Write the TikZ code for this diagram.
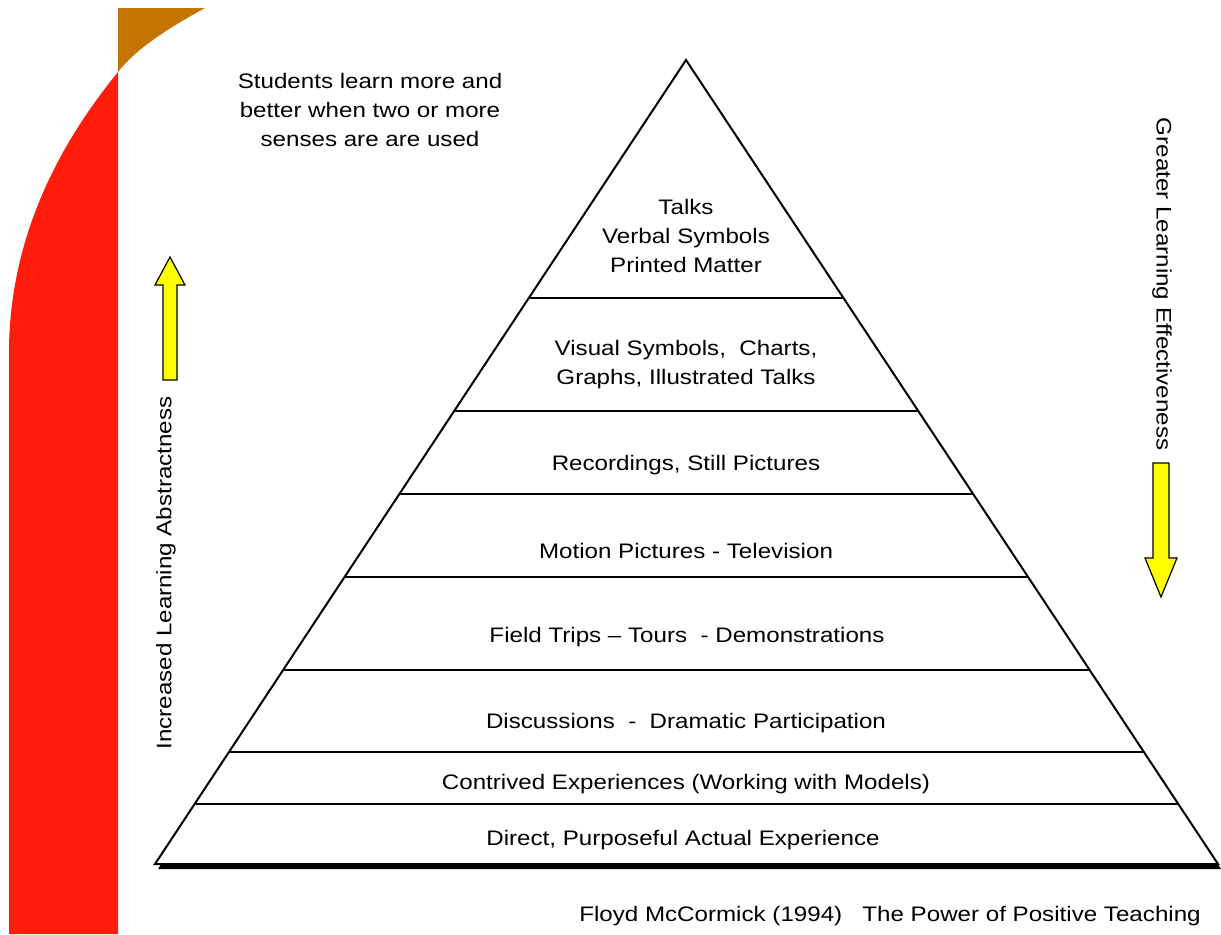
\documentclass[tikz,border=0pt]{standalone}
\usepackage{fontspec}
\setmainfont[FakeStretch=1.15]{Liberation Sans}
\usetikzlibrary{calc,positioning}
\definecolor{bandred}{RGB}{255,28,10}
\definecolor{bandorange}{RGB}{196,116,0}
\definecolor{arrowyellow}{RGB}{255,255,0}
\tikzset{
    label/.style={font=\fontsize{10.5}{14.5}\selectfont, align=center, inner sep=0pt, text=black},
    edgeline/.style={line width=1pt, line join=miter},
    divider/.style={line width=0.75pt},
    fatarrow/.style={draw=black, fill=arrowyellow, line width=0.6pt, line join=miter}
}

\begin{document}
\begin{tikzpicture}[x=0.5pt,y=-0.5pt]
\useasboundingbox (0,0) rectangle (1221,934);

% ---- side band ----
\fill[bandorange] (118,8) -- (205,8) .. controls (165,30) and (135,50) .. (118,72) -- cycle;
\fill[bandred] (118,72) .. controls (75,125) and (10,220) .. (9,350) -- (9,934) -- (118,934) -- cycle;

% ---- pyramid ----
\coordinate (apex) at (686,60);
\coordinate (bl) at (155,864);
\coordinate (br) at (1218,864);
\fill[black] ($(apex)+(2,3)$) -- ($(br)+(3,5)$) -- ($(bl)+(3,5)$) -- cycle;
\draw[edgeline, fill=white] (apex) -- (br) -- (bl) -- cycle;

% ---- levels ----
\foreach \y in {298,411,494,577,670,752,804}
    \draw[divider] ($(apex)!{(\y-60)/804}!(bl)$) -- ($(apex)!{(\y-60)/804}!(br)$);

\node[label] (talks) at (686,236) {Talks\\Verbal Symbols\\Printed Matter};
\node[label] (visual) at (686,365) {Visual Symbols,\ \ Charts,\\Graphs, Illustrated Talks};
\node[label] (record) at (686,465) {Recordings, Still Pictures};
\node[label] (motion) at (686,551) {Motion Pictures - Television};
\node[label] (field) at (687,637) {Field Trips -- Tours\ \ - Demonstrations};
\node[label] (discuss) at (686,723) {Discussions\ \ -\ \ Dramatic Participation};
\node[label] (contrived) at (686,784) {Contrived Experiences (Working with Models)};
\node[label] (direct) at (683,840) {Direct, Purposeful Actual Experience};

% ---- notes ----
\node[label] (senses) at (370,110) {Students learn more and\\better when two or more\\senses are are used};
\node[label] (source) at (890,916) {Floyd McCormick (1994)\ \ \ The Power of Positive Teaching};
\node[label, rotate=90] (abstract) at (166,573) {Increased Learning Abstractness};
\node[label, rotate=-90] (effect) at (1162,284) {Greater Learning Effectiveness};

% ---- yellow arrows ----
\draw[fatarrow] (163,380) -- (163,285) -- (155,285) -- (170,257) -- (185,285) -- (177,285) -- (177,380) -- cycle;
\draw[fatarrow] (1153,463) -- (1153,558) -- (1145,558) -- (1161,597) -- (1177,558) -- (1169,558) -- (1169,463) -- cycle;

\end{tikzpicture}
\end{document}
